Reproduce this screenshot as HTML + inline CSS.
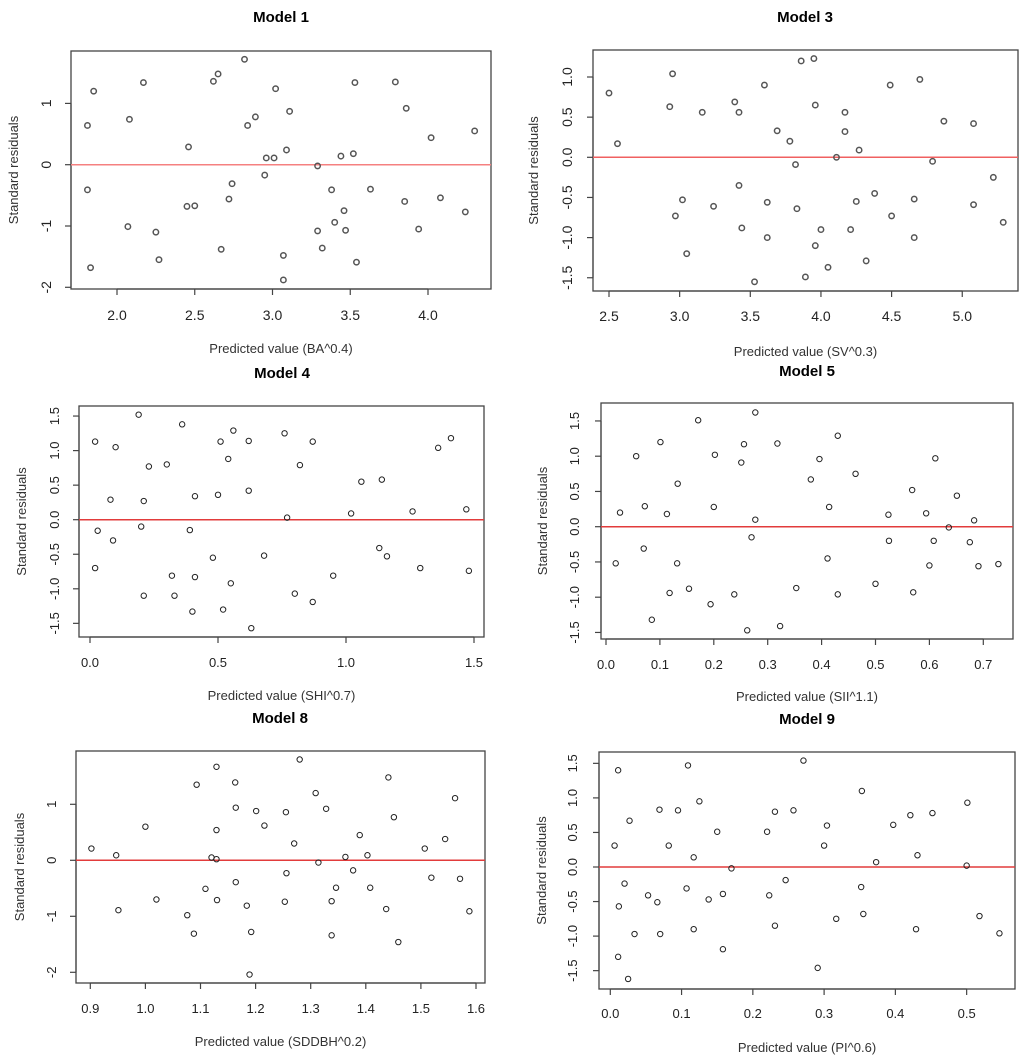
<!DOCTYPE html>
<html><head><meta charset="utf-8"><style>
html,body{margin:0;padding:0;background:#fff;}
svg{display:block;font-family:"Liberation Sans",Arial,sans-serif;}
</style></head><body>
<svg id="chart" width="1024" height="1060" viewBox="0 0 1024 1060" xmlns="http://www.w3.org/2000/svg"></svg>
<script>
// ---- Data ----
const m1x=[1.81,1.85,1.81,1.83,2.08,2.07,2.17,2.25,2.27,2.46,2.45,2.50,2.62,2.65,2.67,2.72,2.74,2.82,2.84,2.89,2.95,2.96,3.01,3.02,3.07,3.07,3.09,3.11,3.29,3.29,3.32,3.38,3.40,3.44,3.46,3.47,3.52,3.53,3.54,3.63,3.79,3.85,3.86,3.94,4.02,4.08,4.24,4.30];
const m1y=[0.64,1.20,-0.41,-1.68,0.74,-1.01,1.34,-1.10,-1.55,0.29,-0.68,-0.67,1.36,1.48,-1.38,-0.56,-0.31,1.72,0.64,0.78,-0.17,0.11,0.11,1.24,-1.48,-1.88,0.24,0.87,-1.08,-0.02,-1.36,-0.41,-0.94,0.14,-0.75,-1.07,0.18,1.34,-1.59,-0.40,1.35,-0.60,0.92,-1.05,0.44,-0.54,-0.77,0.55];
const m3x=[2.50,2.56,2.95,2.93,2.97,3.02,3.05,3.16,3.24,3.39,3.42,3.42,3.44,3.53,3.60,3.62,3.62,3.69,3.78,3.82,3.83,3.86,3.89,3.95,3.96,3.96,4.00,4.05,4.11,4.17,4.17,4.21,4.25,4.27,4.32,4.38,4.49,4.50,4.66,4.66,4.70,4.79,4.87,5.08,5.08,5.22,5.29];
const m3y=[0.80,0.17,1.04,0.63,-0.73,-0.53,-1.20,0.56,-0.61,0.69,0.56,-0.35,-0.88,-1.55,0.90,-0.56,-1.00,0.33,0.20,-0.09,-0.64,1.20,-1.49,1.23,0.65,-1.10,-0.90,-1.37,0.00,0.56,0.32,-0.90,-0.55,0.09,-1.29,-0.45,0.90,-0.73,-0.52,-1.00,0.97,-0.05,0.45,0.42,-0.59,-0.25,-0.81];
const m4x=[0.02,0.03,0.02,0.08,0.09,0.10,0.19,0.20,0.21,0.21,0.23,0.30,0.32,0.33,0.36,0.39,0.40,0.41,0.41,0.48,0.50,0.51,0.52,0.54,0.55,0.56,0.62,0.62,0.63,0.68,0.76,0.77,0.80,0.82,0.87,0.87,0.95,1.02,1.06,1.13,1.14,1.16,1.26,1.29,1.36,1.41,1.47,1.48];
const m4y=[1.13,-0.16,-0.70,0.29,-0.30,1.05,1.52,-0.10,0.27,-1.10,0.77,0.80,-0.81,-1.10,1.38,-0.15,-1.33,0.34,-0.83,-0.55,0.36,1.13,-1.30,0.88,-0.92,1.29,1.14,0.42,-1.57,-0.52,1.25,0.03,-1.07,0.79,-1.19,1.13,-0.81,0.09,0.55,-0.41,0.58,-0.53,0.12,-0.70,1.04,1.18,0.15,-0.74];
const m5x=[0.018,0.026,0.056,0.070,0.072,0.085,0.101,0.113,0.118,0.132,0.133,0.154,0.171,0.194,0.200,0.202,0.238,0.251,0.256,0.262,0.270,0.277,0.277,0.318,0.323,0.353,0.380,0.396,0.411,0.414,0.430,0.430,0.463,0.500,0.524,0.525,0.568,0.570,0.594,0.600,0.608,0.611,0.636,0.651,0.675,0.683,0.691,0.728];
const m5y=[-0.52,0.20,1.00,-0.31,0.29,-1.32,1.20,0.18,-0.94,-0.52,0.61,-0.88,1.51,-1.10,0.28,1.02,-0.96,0.91,1.17,-1.47,-0.15,1.62,0.10,1.18,-1.41,-0.87,0.67,0.96,-0.45,0.28,1.29,-0.96,0.75,-0.81,0.17,-0.20,0.52,-0.93,0.19,-0.55,-0.20,0.97,-0.01,0.44,-0.22,0.09,-0.56,-0.53];
const m8x=[0.902,0.947,0.951,1.000,1.020,1.076,1.088,1.093,1.109,1.120,1.129,1.129,1.129,1.130,1.163,1.164,1.164,1.184,1.189,1.192,1.201,1.216,1.253,1.255,1.256,1.270,1.280,1.309,1.314,1.328,1.338,1.338,1.346,1.363,1.377,1.389,1.403,1.408,1.437,1.441,1.451,1.459,1.507,1.519,1.544,1.562,1.571,1.588];
const m8y=[0.21,0.09,-0.89,0.60,-0.70,-0.98,-1.31,1.35,-0.51,0.05,0.02,1.67,0.54,-0.71,1.39,0.94,-0.39,-0.81,-2.04,-1.28,0.88,0.62,-0.74,0.86,-0.23,0.30,1.80,1.20,-0.04,0.92,-0.73,-1.34,-0.49,0.06,-0.18,0.45,0.09,-0.49,-0.87,1.48,0.77,-1.46,0.21,-0.31,0.38,1.11,-0.33,-0.91];
const m9x=[0.006,0.011,0.012,0.011,0.020,0.025,0.027,0.034,0.053,0.066,0.069,0.070,0.082,0.095,0.107,0.109,0.117,0.117,0.125,0.138,0.150,0.158,0.158,0.170,0.220,0.223,0.231,0.231,0.246,0.257,0.271,0.291,0.300,0.304,0.317,0.352,0.353,0.355,0.373,0.397,0.421,0.429,0.431,0.452,0.500,0.501,0.518,0.546];
const m9y=[0.31,1.40,-0.57,-1.30,-0.24,-1.62,0.67,-0.97,-0.41,-0.51,0.83,-0.97,0.31,0.82,-0.31,1.47,0.14,-0.90,0.95,-0.47,0.51,-0.39,-1.19,-0.02,0.51,-0.41,0.80,-0.85,-0.19,0.82,1.54,-1.46,0.31,0.60,-0.75,-0.29,1.10,-0.68,0.07,0.61,0.75,-0.90,0.17,0.78,0.02,0.93,-0.71,-0.96];
const m1xt=["2.0","2.5","3.0","3.5","4.0"], m1yt=["-2","-1","0","1"];
const m3xt=["2.5","3.0","3.5","4.0","4.5","5.0"], m3yt=["-1.5","-1.0","-0.5","0.0","0.5","1.0"];
const m4xt=["0.0","0.5","1.0","1.5"], m4yt=["-1.5","-1.0","-0.5","0.0","0.5","1.0","1.5"];
const m5xt=["0.0","0.1","0.2","0.3","0.4","0.5","0.6","0.7"], m5yt=["-1.5","-1.0","-0.5","0.0","0.5","1.0","1.5"];
const m8xt=["0.9","1.0","1.1","1.2","1.3","1.4","1.5","1.6"], m8yt=["-2","-1","0","1"];
const m9xt=["0.0","0.1","0.2","0.3","0.4","0.5"], m9yt=["-1.5","-1.0","-0.5","0.0","0.5","1.0","1.5"];

const NS="http://www.w3.org/2000/svg";
const svg=document.getElementById('chart');
function mk(tag,attrs,parent,text){const e=document.createElementNS(NS,tag);for(const k in attrs)e.setAttribute(k,attrs[k]);if(text!==undefined)e.textContent=text;parent.appendChild(e);return e;}

// layout: box L,R,T,B; x mapping (v0 -> p0, scale px/unit); y mapping
const panels=[
 {id:'model-1',title:'Model 1',xl:'Predicted value (BA^0.4)',L:71,R:491,T:51,B:289,xv0:2,xp0:117,xs:155.5,yp0:164.7,ys:61.3,tx:281,ty:22,xlY:353,ylX:18,tlY:320,ytX:51,xs_:m1x,ys_:m1y,xt:m1xt,yt:m1yt,pc:'#555',pw:1.5,rc:'#f58080',big:true},
 {id:'model-3',title:'Model 3',xl:'Predicted value (SV^0.3)',L:593,R:1018,T:50,B:291,xv0:2.5,xp0:609,xs:141.3,yp0:157.3,ys:80.3,tx:805,ty:22,xlY:356,ylX:538,tlY:321,ytX:572,xs_:m3x,ys_:m3y,xt:m3xt,yt:m3yt,pc:'#555',pw:1.5,rc:'#f06060',big:true},
 {id:'model-4',title:'Model 4',xl:'Predicted value (SHI^0.7)',L:79,R:484,T:406,B:637,xv0:0,xp0:90,xs:256,yp0:519.7,ys:69.1,tx:282,ty:378,xlY:700,ylX:26,tlY:667,ytX:59,xs_:m4x,ys_:m4y,xt:m4xt,yt:m4yt,pc:'#222',pw:1,rc:'#e23b3b'},
 {id:'model-5',title:'Model 5',xl:'Predicted value (SII^1.1)',L:601,R:1013,T:403,B:639,xv0:0,xp0:606,xs:539,yp0:526.7,ys:70.5,tx:807,ty:376,xlY:701,ylX:547,tlY:669,ytX:579,xs_:m5x,ys_:m5y,xt:m5xt,yt:m5yt,pc:'#222',pw:1,rc:'#e23b3b'},
 {id:'model-8',title:'Model 8',xl:'Predicted value (SDDBH^0.2)',L:76,R:485,T:751,B:983,xv0:0.9,xp0:90.3,xs:551,yp0:860.3,ys:56,tx:280,ty:723,xlY:1046,ylX:24,tlY:1013,ytX:56,xs_:m8x,ys_:m8y,xt:m8xt,yt:m8yt,pc:'#222',pw:1,rc:'#e23b3b'},
 {id:'model-9',title:'Model 9',xl:'Predicted value (PI^0.6)',L:599,R:1015,T:752,B:989,xv0:0,xp0:610.3,xs:712.7,yp0:867,ys:69.1,tx:807,ty:724,xlY:1052,ylX:546,tlY:1018,ytX:577,xs_:m9x,ys_:m9y,xt:m9xt,yt:m9yt,pc:'#222',pw:1,rc:'#e23b3b'}
];

panels.forEach(p=>{
  const X=v=>p.xp0+(v-p.xv0)*p.xs;
  const Y=v=>p.yp0-v*p.ys;
  const g=mk('g',{},svg);
  
  
  const fs=p.big?14:13;
  const t=mk('text',{x:p.tx,y:p.ty,'text-anchor':'middle','font-size':15,'font-weight':'bold',fill:'#000'},g,p.title);
  
  
  const box=mk('rect',{x:p.L,y:p.T,width:p.R-p.L,height:p.B-p.T,fill:'none',stroke:'#444','stroke-width':1.3},g);
  
  
  // x axis
  const xa=mk('g',{},g);
  
  
  const xf=p.xt.map(Number);
  mk('line',{x1:X(xf[0]),x2:X(xf[xf.length-1]),y1:p.B,y2:p.B,stroke:'#444','stroke-width':1.2},xa);
  p.xt.forEach(s=>{const px=X(Number(s));
    mk('line',{x1:px,x2:px,y1:p.B,y2:p.B+6,stroke:'#444','stroke-width':1.2},xa);
    const tl=mk('text',{x:px,y:p.tlY,'text-anchor':'middle','font-size':fs,fill:'#222'},xa,s);
    
    
  });
  const xl=mk('text',{x:(p.L+p.R)/2,y:p.xlY,'text-anchor':'middle','font-size':13,fill:'#333'},g,p.xl);
  
  
  // y axis
  const ya=mk('g',{},g);
  
  
  const yf=p.yt.map(Number);
  mk('line',{x1:p.L,x2:p.L,y1:Y(yf[0]),y2:Y(yf[yf.length-1]),stroke:'#444','stroke-width':1.2},ya);
  p.yt.forEach(s=>{const py=Y(Number(s));
    mk('line',{x1:p.L-6,x2:p.L,y1:py,y2:py,stroke:'#444','stroke-width':1.2},ya);
    const tl=mk('text',{x:p.ytX,y:py,'text-anchor':'middle','font-size':fs,fill:'#222',transform:`rotate(-90 ${p.ytX} ${py})`},ya,s);
    
    
  });
  const yc=(p.T+p.B)/2;
  const yl=mk('text',{x:p.ylX,y:yc,'text-anchor':'middle','font-size':13,fill:'#333',transform:`rotate(-90 ${p.ylX} ${yc})`},g,'Standard residuals');
  
  
  // zero line
  const z=mk('line',{x1:p.L,x2:p.R,y1:Y(0),y2:Y(0),stroke:p.rc,'stroke-width':1.5},g);
  
  
  // points
  const pts=mk('g',{},g);
  
  
  p.xs_.forEach((v,i)=>{
    const c=mk('circle',{cx:X(v),cy:Y(p.ys_[i]),r:2.7,fill:'none',stroke:p.pc,'stroke-width':p.pw},pts);
    
    
  });
});
</script>
</body></html>
